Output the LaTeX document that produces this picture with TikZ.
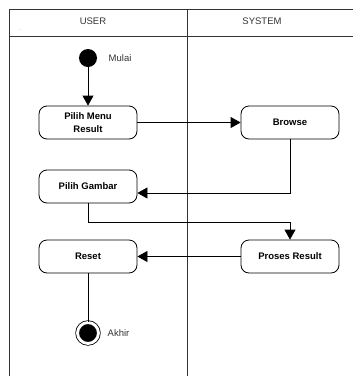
\documentclass[tikz,border=0pt]{standalone}
\usepackage{fontspec}
\setmainfont{Liberation Sans}
\usetikzlibrary{arrows.meta}

\begin{document}
\begin{tikzpicture}[x=1pt, y=-1pt, line width=0.8pt,
    act/.style={draw, rounded corners=8pt, minimum width=98pt, minimum height=33pt,
        inner sep=1pt, align=center, font=\fontsize{9.5}{12.5}\selectfont\bfseries},
    flow/.style={-{Triangle[width=11pt,length=10pt]}},
    lbl/.style={anchor=west, text=black!80, font=\fontsize{9.5}{11}\selectfont}]
    \useasboundingbox (0,0) rectangle (353,376);
    %lanes
    \draw[black!80] (9,376) -- (9,9) -- (353,9);
    \draw[black!80] (9,36) -- (353,36);
    \draw[black!80] (187,9) -- (187,376);
    \node[text=black!80, font=\fontsize{9.5}{11}\selectfont] at (93,21) (user) {USER};
    \node[text=black!80, font=\fontsize{9.5}{11}\selectfont] at (262,21) (system) {SYSTEM};
    \node[text=black!60, font=\fontsize{5}{6}\selectfont] at (20,30) (dot) {.};
    %nodes
    \node[circle, fill=black, minimum size=18pt, inner sep=0pt] at (88,58) (start) {};
    \node[lbl] at (105,58) (mulai) {Mulai};
    \node[act] at (88,122.5) (menu) {Pilih Menu\\Result};
    \node[act] at (290,122.5) (browse) {Browse};
    \node[act] at (88,186.5) (gambar) {Pilih Gambar};
    \node[act] at (290,256.5) (proses) {Proses Result};
    \node[act] at (88,256.5) (reset) {Reset};
    \node[circle, draw, fill=black, double, double distance=2.9pt, minimum size=20.9pt,
        inner sep=0pt] at (88,333) (end) {};
    \node[lbl] at (104,333) (akhir) {Akhir};
    %flows
    \path[flow]
        (start) edge (menu)
        (menu) edge (browse)
        (proses) edge (reset);
    \draw[flow] (browse.south) |- ([yshift=-6.5pt]gambar.east);
    \draw[flow] (gambar.south) -- ++(0,19) -| (proses.north);
    \draw (reset) -- (end);
\end{tikzpicture}
\end{document}
